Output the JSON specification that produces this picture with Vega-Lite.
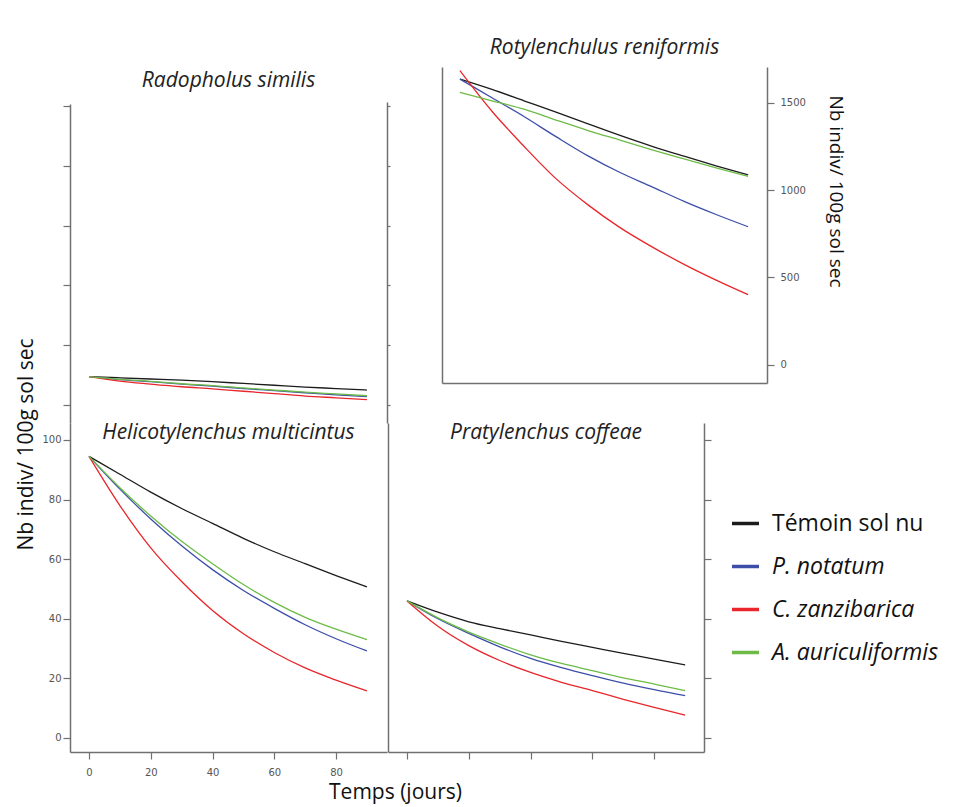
{
  "$schema": "https://vega.github.io/schema/vega-lite/v6.json",
  "padding": {"left": 15, "top": 37, "right": 5, "bottom": 2},
  "background": "white",
  "data": {"values": [
    {"panel": "Radopholus similis", "treatment": "Témoin sol nu", "day": 0, "count": 9.5},
    {"panel": "Radopholus similis", "treatment": "Témoin sol nu", "day": 10, "count": 9.1},
    {"panel": "Radopholus similis", "treatment": "Témoin sol nu", "day": 20, "count": 8.7},
    {"panel": "Radopholus similis", "treatment": "Témoin sol nu", "day": 30, "count": 8.3},
    {"panel": "Radopholus similis", "treatment": "Témoin sol nu", "day": 40, "count": 7.8},
    {"panel": "Radopholus similis", "treatment": "Témoin sol nu", "day": 50, "count": 7.2},
    {"panel": "Radopholus similis", "treatment": "Témoin sol nu", "day": 60, "count": 6.6},
    {"panel": "Radopholus similis", "treatment": "Témoin sol nu", "day": 70, "count": 6.0},
    {"panel": "Radopholus similis", "treatment": "Témoin sol nu", "day": 80, "count": 5.5},
    {"panel": "Radopholus similis", "treatment": "Témoin sol nu", "day": 90, "count": 5.0},
    {"panel": "Radopholus similis", "treatment": "P. notatum", "day": 0, "count": 9.5},
    {"panel": "Radopholus similis", "treatment": "P. notatum", "day": 10, "count": 8.5},
    {"panel": "Radopholus similis", "treatment": "P. notatum", "day": 20, "count": 7.8},
    {"panel": "Radopholus similis", "treatment": "P. notatum", "day": 30, "count": 7.0},
    {"panel": "Radopholus similis", "treatment": "P. notatum", "day": 40, "count": 6.3},
    {"panel": "Radopholus similis", "treatment": "P. notatum", "day": 50, "count": 5.5},
    {"panel": "Radopholus similis", "treatment": "P. notatum", "day": 60, "count": 4.8},
    {"panel": "Radopholus similis", "treatment": "P. notatum", "day": 70, "count": 4.1},
    {"panel": "Radopholus similis", "treatment": "P. notatum", "day": 80, "count": 3.4},
    {"panel": "Radopholus similis", "treatment": "P. notatum", "day": 90, "count": 2.8},
    {"panel": "Radopholus similis", "treatment": "C. zanzibarica", "day": 0, "count": 9.5},
    {"panel": "Radopholus similis", "treatment": "C. zanzibarica", "day": 10, "count": 8.0},
    {"panel": "Radopholus similis", "treatment": "C. zanzibarica", "day": 20, "count": 7.0},
    {"panel": "Radopholus similis", "treatment": "C. zanzibarica", "day": 30, "count": 6.1},
    {"panel": "Radopholus similis", "treatment": "C. zanzibarica", "day": 40, "count": 5.4},
    {"panel": "Radopholus similis", "treatment": "C. zanzibarica", "day": 50, "count": 4.6},
    {"panel": "Radopholus similis", "treatment": "C. zanzibarica", "day": 60, "count": 3.8},
    {"panel": "Radopholus similis", "treatment": "C. zanzibarica", "day": 70, "count": 3.0},
    {"panel": "Radopholus similis", "treatment": "C. zanzibarica", "day": 80, "count": 2.4},
    {"panel": "Radopholus similis", "treatment": "C. zanzibarica", "day": 90, "count": 1.8},
    {"panel": "Radopholus similis", "treatment": "A. auriculiformis", "day": 0, "count": 9.5},
    {"panel": "Radopholus similis", "treatment": "A. auriculiformis", "day": 10, "count": 8.6},
    {"panel": "Radopholus similis", "treatment": "A. auriculiformis", "day": 20, "count": 7.9},
    {"panel": "Radopholus similis", "treatment": "A. auriculiformis", "day": 30, "count": 7.1},
    {"panel": "Radopholus similis", "treatment": "A. auriculiformis", "day": 40, "count": 6.5},
    {"panel": "Radopholus similis", "treatment": "A. auriculiformis", "day": 50, "count": 5.7},
    {"panel": "Radopholus similis", "treatment": "A. auriculiformis", "day": 60, "count": 5.0},
    {"panel": "Radopholus similis", "treatment": "A. auriculiformis", "day": 70, "count": 4.3},
    {"panel": "Radopholus similis", "treatment": "A. auriculiformis", "day": 80, "count": 3.7},
    {"panel": "Radopholus similis", "treatment": "A. auriculiformis", "day": 90, "count": 3.1},

    {"panel": "Rotylenchulus reniformis", "treatment": "Témoin sol nu", "day": 0, "count": 1634},
    {"panel": "Rotylenchulus reniformis", "treatment": "Témoin sol nu", "day": 10, "count": 1575},
    {"panel": "Rotylenchulus reniformis", "treatment": "Témoin sol nu", "day": 20, "count": 1510},
    {"panel": "Rotylenchulus reniformis", "treatment": "Témoin sol nu", "day": 30, "count": 1445},
    {"panel": "Rotylenchulus reniformis", "treatment": "Témoin sol nu", "day": 40, "count": 1378},
    {"panel": "Rotylenchulus reniformis", "treatment": "Témoin sol nu", "day": 50, "count": 1312},
    {"panel": "Rotylenchulus reniformis", "treatment": "Témoin sol nu", "day": 60, "count": 1250},
    {"panel": "Rotylenchulus reniformis", "treatment": "Témoin sol nu", "day": 70, "count": 1193},
    {"panel": "Rotylenchulus reniformis", "treatment": "Témoin sol nu", "day": 80, "count": 1138},
    {"panel": "Rotylenchulus reniformis", "treatment": "Témoin sol nu", "day": 90, "count": 1086},
    {"panel": "Rotylenchulus reniformis", "treatment": "P. notatum", "day": 0, "count": 1634},
    {"panel": "Rotylenchulus reniformis", "treatment": "P. notatum", "day": 10, "count": 1527},
    {"panel": "Rotylenchulus reniformis", "treatment": "P. notatum", "day": 20, "count": 1420},
    {"panel": "Rotylenchulus reniformis", "treatment": "P. notatum", "day": 30, "count": 1305},
    {"panel": "Rotylenchulus reniformis", "treatment": "P. notatum", "day": 40, "count": 1195},
    {"panel": "Rotylenchulus reniformis", "treatment": "P. notatum", "day": 50, "count": 1100},
    {"panel": "Rotylenchulus reniformis", "treatment": "P. notatum", "day": 60, "count": 1018},
    {"panel": "Rotylenchulus reniformis", "treatment": "P. notatum", "day": 70, "count": 935},
    {"panel": "Rotylenchulus reniformis", "treatment": "P. notatum", "day": 80, "count": 860},
    {"panel": "Rotylenchulus reniformis", "treatment": "P. notatum", "day": 90, "count": 790},
    {"panel": "Rotylenchulus reniformis", "treatment": "C. zanzibarica", "day": 0, "count": 1682},
    {"panel": "Rotylenchulus reniformis", "treatment": "C. zanzibarica", "day": 10, "count": 1450},
    {"panel": "Rotylenchulus reniformis", "treatment": "C. zanzibarica", "day": 20, "count": 1250},
    {"panel": "Rotylenchulus reniformis", "treatment": "C. zanzibarica", "day": 30, "count": 1065},
    {"panel": "Rotylenchulus reniformis", "treatment": "C. zanzibarica", "day": 40, "count": 915},
    {"panel": "Rotylenchulus reniformis", "treatment": "C. zanzibarica", "day": 50, "count": 785},
    {"panel": "Rotylenchulus reniformis", "treatment": "C. zanzibarica", "day": 60, "count": 675},
    {"panel": "Rotylenchulus reniformis", "treatment": "C. zanzibarica", "day": 70, "count": 575},
    {"panel": "Rotylenchulus reniformis", "treatment": "C. zanzibarica", "day": 80, "count": 485},
    {"panel": "Rotylenchulus reniformis", "treatment": "C. zanzibarica", "day": 90, "count": 402},
    {"panel": "Rotylenchulus reniformis", "treatment": "A. auriculiformis", "day": 0, "count": 1558},
    {"panel": "Rotylenchulus reniformis", "treatment": "A. auriculiformis", "day": 10, "count": 1510},
    {"panel": "Rotylenchulus reniformis", "treatment": "A. auriculiformis", "day": 20, "count": 1462},
    {"panel": "Rotylenchulus reniformis", "treatment": "A. auriculiformis", "day": 30, "count": 1400},
    {"panel": "Rotylenchulus reniformis", "treatment": "A. auriculiformis", "day": 40, "count": 1340},
    {"panel": "Rotylenchulus reniformis", "treatment": "A. auriculiformis", "day": 50, "count": 1285},
    {"panel": "Rotylenchulus reniformis", "treatment": "A. auriculiformis", "day": 60, "count": 1230},
    {"panel": "Rotylenchulus reniformis", "treatment": "A. auriculiformis", "day": 70, "count": 1178},
    {"panel": "Rotylenchulus reniformis", "treatment": "A. auriculiformis", "day": 80, "count": 1127},
    {"panel": "Rotylenchulus reniformis", "treatment": "A. auriculiformis", "day": 90, "count": 1078},

    {"panel": "Helicotylenchus multicintus", "treatment": "Témoin sol nu", "day": 0, "count": 94.5},
    {"panel": "Helicotylenchus multicintus", "treatment": "Témoin sol nu", "day": 10, "count": 88.5},
    {"panel": "Helicotylenchus multicintus", "treatment": "Témoin sol nu", "day": 20, "count": 82.5},
    {"panel": "Helicotylenchus multicintus", "treatment": "Témoin sol nu", "day": 30, "count": 77},
    {"panel": "Helicotylenchus multicintus", "treatment": "Témoin sol nu", "day": 40, "count": 72},
    {"panel": "Helicotylenchus multicintus", "treatment": "Témoin sol nu", "day": 50, "count": 67},
    {"panel": "Helicotylenchus multicintus", "treatment": "Témoin sol nu", "day": 60, "count": 62.5},
    {"panel": "Helicotylenchus multicintus", "treatment": "Témoin sol nu", "day": 70, "count": 58.5},
    {"panel": "Helicotylenchus multicintus", "treatment": "Témoin sol nu", "day": 80, "count": 54.5},
    {"panel": "Helicotylenchus multicintus", "treatment": "Témoin sol nu", "day": 90, "count": 50.7},
    {"panel": "Helicotylenchus multicintus", "treatment": "P. notatum", "day": 0, "count": 94.5},
    {"panel": "Helicotylenchus multicintus", "treatment": "P. notatum", "day": 10, "count": 83.5},
    {"panel": "Helicotylenchus multicintus", "treatment": "P. notatum", "day": 20, "count": 73.5},
    {"panel": "Helicotylenchus multicintus", "treatment": "P. notatum", "day": 30, "count": 64.5},
    {"panel": "Helicotylenchus multicintus", "treatment": "P. notatum", "day": 40, "count": 56.5},
    {"panel": "Helicotylenchus multicintus", "treatment": "P. notatum", "day": 50, "count": 49.5},
    {"panel": "Helicotylenchus multicintus", "treatment": "P. notatum", "day": 60, "count": 43.5},
    {"panel": "Helicotylenchus multicintus", "treatment": "P. notatum", "day": 70, "count": 38},
    {"panel": "Helicotylenchus multicintus", "treatment": "P. notatum", "day": 80, "count": 33.3},
    {"panel": "Helicotylenchus multicintus", "treatment": "P. notatum", "day": 90, "count": 29.2},
    {"panel": "Helicotylenchus multicintus", "treatment": "C. zanzibarica", "day": 0, "count": 94.5},
    {"panel": "Helicotylenchus multicintus", "treatment": "C. zanzibarica", "day": 10, "count": 78},
    {"panel": "Helicotylenchus multicintus", "treatment": "C. zanzibarica", "day": 20, "count": 63.8},
    {"panel": "Helicotylenchus multicintus", "treatment": "C. zanzibarica", "day": 30, "count": 52.5},
    {"panel": "Helicotylenchus multicintus", "treatment": "C. zanzibarica", "day": 40, "count": 42.8},
    {"panel": "Helicotylenchus multicintus", "treatment": "C. zanzibarica", "day": 50, "count": 35},
    {"panel": "Helicotylenchus multicintus", "treatment": "C. zanzibarica", "day": 60, "count": 28.7},
    {"panel": "Helicotylenchus multicintus", "treatment": "C. zanzibarica", "day": 70, "count": 23.5},
    {"panel": "Helicotylenchus multicintus", "treatment": "C. zanzibarica", "day": 80, "count": 19.4},
    {"panel": "Helicotylenchus multicintus", "treatment": "C. zanzibarica", "day": 90, "count": 15.8},
    {"panel": "Helicotylenchus multicintus", "treatment": "A. auriculiformis", "day": 0, "count": 94.5},
    {"panel": "Helicotylenchus multicintus", "treatment": "A. auriculiformis", "day": 10, "count": 84},
    {"panel": "Helicotylenchus multicintus", "treatment": "A. auriculiformis", "day": 20, "count": 74.5},
    {"panel": "Helicotylenchus multicintus", "treatment": "A. auriculiformis", "day": 30, "count": 66},
    {"panel": "Helicotylenchus multicintus", "treatment": "A. auriculiformis", "day": 40, "count": 58.5},
    {"panel": "Helicotylenchus multicintus", "treatment": "A. auriculiformis", "day": 50, "count": 51.5},
    {"panel": "Helicotylenchus multicintus", "treatment": "A. auriculiformis", "day": 60, "count": 45.5},
    {"panel": "Helicotylenchus multicintus", "treatment": "A. auriculiformis", "day": 70, "count": 40.5},
    {"panel": "Helicotylenchus multicintus", "treatment": "A. auriculiformis", "day": 80, "count": 36.5},
    {"panel": "Helicotylenchus multicintus", "treatment": "A. auriculiformis", "day": 90, "count": 33},

    {"panel": "Pratylenchus coffeae", "treatment": "Témoin sol nu", "day": 0, "count": 46},
    {"panel": "Pratylenchus coffeae", "treatment": "Témoin sol nu", "day": 10, "count": 42.2},
    {"panel": "Pratylenchus coffeae", "treatment": "Témoin sol nu", "day": 20, "count": 39},
    {"panel": "Pratylenchus coffeae", "treatment": "Témoin sol nu", "day": 30, "count": 36.7},
    {"panel": "Pratylenchus coffeae", "treatment": "Témoin sol nu", "day": 40, "count": 34.6},
    {"panel": "Pratylenchus coffeae", "treatment": "Témoin sol nu", "day": 50, "count": 32.4},
    {"panel": "Pratylenchus coffeae", "treatment": "Témoin sol nu", "day": 60, "count": 30.4},
    {"panel": "Pratylenchus coffeae", "treatment": "Témoin sol nu", "day": 70, "count": 28.4},
    {"panel": "Pratylenchus coffeae", "treatment": "Témoin sol nu", "day": 80, "count": 26.5},
    {"panel": "Pratylenchus coffeae", "treatment": "Témoin sol nu", "day": 90, "count": 24.5},
    {"panel": "Pratylenchus coffeae", "treatment": "P. notatum", "day": 0, "count": 46},
    {"panel": "Pratylenchus coffeae", "treatment": "P. notatum", "day": 10, "count": 40},
    {"panel": "Pratylenchus coffeae", "treatment": "P. notatum", "day": 20, "count": 35.1},
    {"panel": "Pratylenchus coffeae", "treatment": "P. notatum", "day": 30, "count": 30.6},
    {"panel": "Pratylenchus coffeae", "treatment": "P. notatum", "day": 40, "count": 26.7},
    {"panel": "Pratylenchus coffeae", "treatment": "P. notatum", "day": 50, "count": 23.6},
    {"panel": "Pratylenchus coffeae", "treatment": "P. notatum", "day": 60, "count": 20.9},
    {"panel": "Pratylenchus coffeae", "treatment": "P. notatum", "day": 70, "count": 18.4},
    {"panel": "Pratylenchus coffeae", "treatment": "P. notatum", "day": 80, "count": 16.2},
    {"panel": "Pratylenchus coffeae", "treatment": "P. notatum", "day": 90, "count": 14.2},
    {"panel": "Pratylenchus coffeae", "treatment": "C. zanzibarica", "day": 0, "count": 46},
    {"panel": "Pratylenchus coffeae", "treatment": "C. zanzibarica", "day": 10, "count": 37.5},
    {"panel": "Pratylenchus coffeae", "treatment": "C. zanzibarica", "day": 20, "count": 31},
    {"panel": "Pratylenchus coffeae", "treatment": "C. zanzibarica", "day": 30, "count": 26},
    {"panel": "Pratylenchus coffeae", "treatment": "C. zanzibarica", "day": 40, "count": 22},
    {"panel": "Pratylenchus coffeae", "treatment": "C. zanzibarica", "day": 50, "count": 18.7},
    {"panel": "Pratylenchus coffeae", "treatment": "C. zanzibarica", "day": 60, "count": 15.9},
    {"panel": "Pratylenchus coffeae", "treatment": "C. zanzibarica", "day": 70, "count": 13},
    {"panel": "Pratylenchus coffeae", "treatment": "C. zanzibarica", "day": 80, "count": 10.3},
    {"panel": "Pratylenchus coffeae", "treatment": "C. zanzibarica", "day": 90, "count": 7.7},
    {"panel": "Pratylenchus coffeae", "treatment": "A. auriculiformis", "day": 0, "count": 46},
    {"panel": "Pratylenchus coffeae", "treatment": "A. auriculiformis", "day": 10, "count": 40.3},
    {"panel": "Pratylenchus coffeae", "treatment": "A. auriculiformis", "day": 20, "count": 35.5},
    {"panel": "Pratylenchus coffeae", "treatment": "A. auriculiformis", "day": 30, "count": 31.5},
    {"panel": "Pratylenchus coffeae", "treatment": "A. auriculiformis", "day": 40, "count": 27.9},
    {"panel": "Pratylenchus coffeae", "treatment": "A. auriculiformis", "day": 50, "count": 25},
    {"panel": "Pratylenchus coffeae", "treatment": "A. auriculiformis", "day": 60, "count": 22.6},
    {"panel": "Pratylenchus coffeae", "treatment": "A. auriculiformis", "day": 70, "count": 20.2},
    {"panel": "Pratylenchus coffeae", "treatment": "A. auriculiformis", "day": 80, "count": 18.1},
    {"panel": "Pratylenchus coffeae", "treatment": "A. auriculiformis", "day": 90, "count": 15.9}
  ]},
  "spacing": 356,
  "bounds": "flush",
  "vconcat": [
    {
      "hconcat": [
        {
          "width": 317, "height": 356,
          "title": {"text": "Radopholus similis", "offset": -24},
          "transform": [{"filter": "datum.panel === 'Radopholus similis'"}],
          "layer": [
            {
              "mark": {"type": "line", "interpolate": "monotone", "strokeWidth": 1.3},
              "encoding": {
                "x": {"field": "day", "type": "quantitative", "scale": {"domain": [-6.15, 96.5], "nice": false, "zero": false}, "axis": null},
                "y": {"field": "count", "type": "quantitative", "scale": {"domain": [-6.02, 113.04], "nice": false, "zero": false},
                      "axis": {"orient": "left", "values": [0, 20, 40, 60, 80, 100], "labels": false, "tickSize": 7, "domainDash": [319, 1000],
                               "title": "Nb indiv/ 100g sol sec", "titleX": -34, "titleY": 377}},
                "color": {"field": "treatment", "type": "nominal",
                          "scale": {"domain": ["Témoin sol nu", "P. notatum", "C. zanzibarica", "A. auriculiformis"], "range": ["#1c1c1c", "#3d4ea8", "#e8262b", "#6dbb46"]},
                          "legend": {"orient": "none", "legendX": 660, "legendY": 441, "title": null, "symbolType": "stroke", "symbolSize": 729, "symbolStrokeWidth": 3.5,
                                     "labelFont": "Open Sans", "labelFontSize": 23, "labelColor": "#111", "labelOffset": 11, "rowPadding": 15, "padding": 0, "labelLimit": 300,
                                     "labelFontStyle": {"expr": "datum.label === 'Témoin sol nu' ? 'normal' : 'italic'"}}}
              }
            },
            {
              "mark": {"type": "line", "opacity": 0},
              "encoding": {
                "y": {"field": "count", "type": "quantitative", "axis": {"orient": "right", "values": [0, 20, 40, 60, 80, 100], "labels": false, "tickSize": 3, "domainDash": [321, 1000], "title": null}},
                "detail": {"field": "treatment"}
              }
            }
          ],
          "resolve": {"axis": {"y": "independent"}}
        },
        {
          "width": 325, "height": 316,
          "title": {"text": "Rotylenchulus reniformis", "offset": 9},
          "transform": [{"filter": "datum.panel === 'Rotylenchulus reniformis'"}],
          "layer": [
            {
              "mark": {"type": "line", "interpolate": "monotone", "strokeWidth": 1.3},
              "encoding": {
                "x": {"field": "day", "type": "quantitative", "scale": {"domain": [-5.6, 95.9], "nice": false, "zero": false},
                      "axis": {"orient": "bottom", "ticks": false, "labels": false, "title": null}},
                "y": {"field": "count", "type": "quantitative", "scale": {"domain": [-103, 1703], "nice": false, "zero": false},
                      "axis": {"orient": "right", "values": [0, 500, 1000, 1500], "format": "d", "tickSize": 7, "labelPadding": 6,
                               "title": "Nb indiv/ 100g sol sec", "titleFontSize": 19, "titleY": 124, "titlePadding": 20}},
                "color": {"field": "treatment", "type": "nominal"}
              }
            },
            {
              "mark": {"type": "line", "opacity": 0},
              "encoding": {
                "y": {"field": "count", "type": "quantitative", "axis": {"orient": "left", "ticks": false, "labels": false, "title": null}},
                "detail": {"field": "treatment"}
              }
            }
          ],
          "resolve": {"axis": {"y": "independent"}}
        }
      ],
      "spacing": 55,
      "bounds": "flush"
    },
    {
      "hconcat": [
        {
          "width": 317, "height": 329,
          "title": {"text": "Helicotylenchus multicintus", "offset": -20},
          "transform": [{"filter": "datum.panel === 'Helicotylenchus multicintus'"}],
          "mark": {"type": "line", "interpolate": "monotone", "strokeWidth": 1.3},
          "encoding": {
            "x": {"field": "day", "type": "quantitative", "scale": {"domain": [-6.15, 96.5], "nice": false, "zero": false},
                  "axis": {"orient": "bottom", "values": [0, 20, 40, 60, 80], "tickSize": 7, "labelPadding": 8,
                           "title": "Temps (jours)", "titleX": 325, "titlePadding": 4}},
            "y": {"field": "count", "type": "quantitative", "scale": {"domain": [-4.7, 105.7], "nice": false, "zero": false},
                  "axis": {"orient": "left", "values": [0, 20, 40, 60, 80, 100], "tickSize": 7, "labelPadding": 2, "title": null}},
            "color": {"field": "treatment", "type": "nominal"}
          }
        },
        {
          "width": 316, "height": 329,
          "title": {"text": "Pratylenchus coffeae", "offset": -20},
          "transform": [{"filter": "datum.panel === 'Pratylenchus coffeae'"}],
          "layer": [
            {
              "mark": {"type": "line", "interpolate": "monotone", "strokeWidth": 1.3},
              "encoding": {
                "x": {"field": "day", "type": "quantitative", "scale": {"domain": [-6.15, 96.1], "nice": false, "zero": false},
                      "axis": {"orient": "bottom", "values": [0, 20, 40, 60, 80], "tickSize": 7, "labels": false, "title": null}},
                "y": {"field": "count", "type": "quantitative", "scale": {"domain": [-4.7, 105.7], "nice": false, "zero": false},
                      "axis": {"orient": "left", "ticks": false, "labels": false, "title": null}},
                "color": {"field": "treatment", "type": "nominal"}
              }
            },
            {
              "mark": {"type": "line", "opacity": 0},
              "encoding": {
                "y": {"field": "count", "type": "quantitative", "axis": {"orient": "right", "values": [0, 20, 40, 60, 80, 100], "tickSize": 7, "labels": false, "title": null}},
                "detail": {"field": "treatment"}
              }
            }
          ],
          "resolve": {"axis": {"y": "independent"}}
        }
      ],
      "spacing": 1,
      "bounds": "flush"
    }
  ],
  "config": {
    "view": {"stroke": null},
    "axis": {"grid": false, "domainColor": "#707070", "domainWidth": 1.5, "tickColor": "#707070", "tickWidth": 1.2,
             "labelFont": "DejaVu Sans", "labelFontSize": 10, "labelColor": "#555555",
             "titleFont": "Open Sans", "titleFontSize": 21, "titleFontWeight": "normal", "titleColor": "#111111"},
    "title": {"font": "Open Sans", "fontSize": 21, "fontStyle": "italic", "fontWeight": "normal", "color": "#222222"}
  }
}
